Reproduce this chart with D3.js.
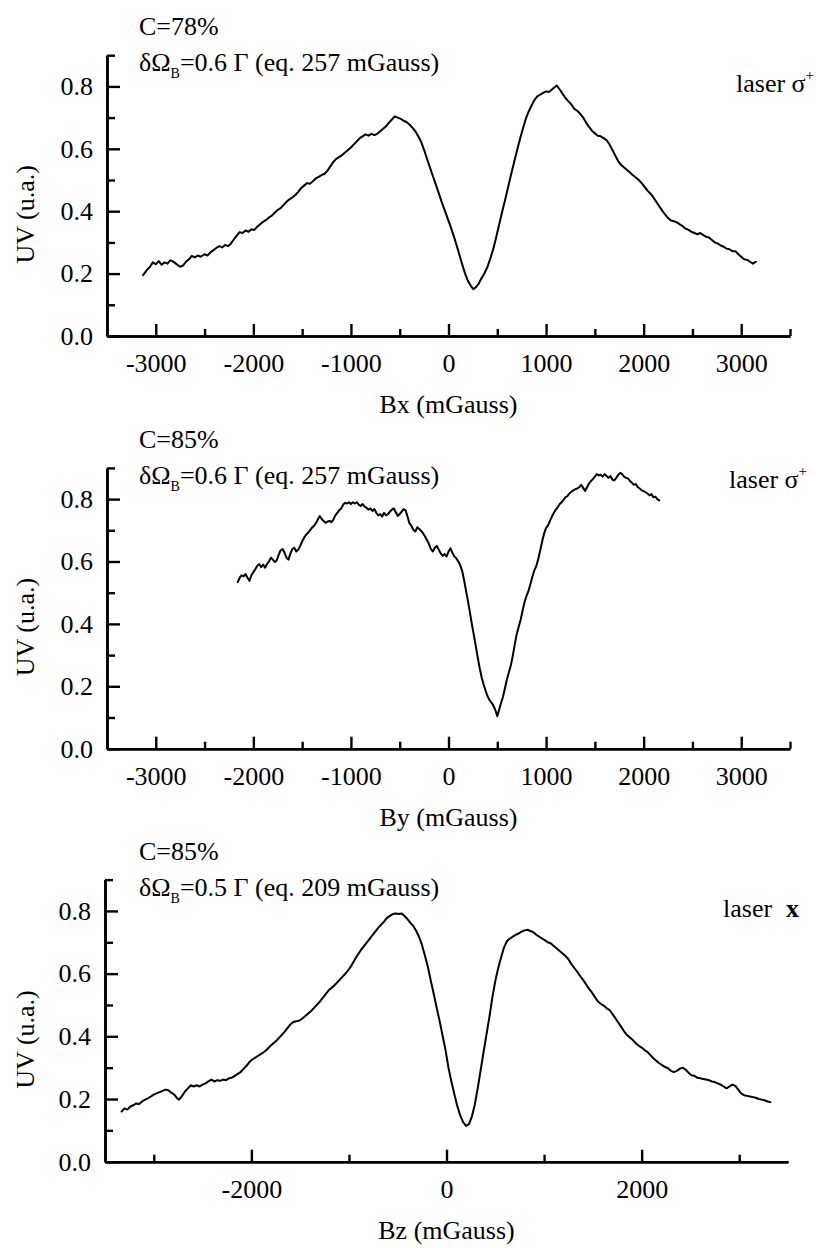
<!DOCTYPE html>
<html><head><meta charset="utf-8">
<script src="https://cdn.jsdelivr.net/npm/d3@7"></script>
<style>
html,body{margin:0;padding:0;background:#fff;}
svg{display:block;}
svg text{font-family:"Liberation Serif","Times New Roman",Times,"DejaVu Serif",serif !important;fill:#000;}
</style>
</head><body>
<script>
// ---- data (field in mGauss, UV signal in u.a.) ----
const bxSeries = [[-3130,0.195],[-3090,0.212],[-3060,0.222],[-3030,0.236],[-3000,0.230],[-2970,0.240],[-2940,0.228],[-2910,0.236],[-2880,0.232],[-2850,0.243],[-2810,0.236],[-2780,0.228],[-2750,0.222],[-2720,0.226],[-2690,0.238],[-2660,0.246],[-2630,0.257],[-2600,0.252],[-2570,0.258],[-2540,0.254],[-2500,0.262],[-2470,0.258],[-2440,0.268],[-2410,0.275],[-2380,0.282],[-2350,0.288],[-2320,0.284],[-2290,0.292],[-2260,0.288],[-2230,0.296],[-2200,0.310],[-2170,0.322],[-2140,0.333],[-2110,0.330],[-2080,0.338],[-2050,0.334],[-2020,0.342],[-1990,0.340],[-1960,0.350],[-1930,0.358],[-1900,0.366],[-1870,0.372],[-1840,0.380],[-1810,0.386],[-1780,0.396],[-1750,0.404],[-1720,0.410],[-1690,0.420],[-1660,0.430],[-1630,0.438],[-1600,0.444],[-1570,0.452],[-1540,0.462],[-1510,0.474],[-1480,0.482],[-1450,0.490],[-1420,0.488],[-1390,0.496],[-1360,0.505],[-1330,0.510],[-1300,0.516],[-1270,0.520],[-1240,0.530],[-1210,0.544],[-1180,0.558],[-1150,0.568],[-1120,0.574],[-1090,0.580],[-1060,0.588],[-1030,0.596],[-1000,0.604],[-970,0.614],[-940,0.624],[-910,0.634],[-880,0.640],[-850,0.646],[-820,0.642],[-790,0.648],[-760,0.644],[-730,0.648],[-700,0.656],[-670,0.664],[-640,0.672],[-610,0.684],[-580,0.694],[-550,0.704],[-520,0.700],[-490,0.696],[-460,0.690],[-430,0.686],[-400,0.678],[-370,0.668],[-340,0.656],[-310,0.640],[-280,0.622],[-250,0.596],[-220,0.568],[-190,0.540],[-160,0.512],[-130,0.486],[-100,0.458],[-70,0.430],[-40,0.404],[-10,0.378],[20,0.352],[50,0.324],[80,0.294],[110,0.262],[140,0.230],[170,0.200],[200,0.176],[230,0.160],[255,0.150],[280,0.156],[310,0.168],[340,0.186],[370,0.202],[400,0.222],[430,0.250],[460,0.280],[490,0.318],[520,0.358],[550,0.398],[580,0.436],[610,0.476],[640,0.516],[670,0.554],[700,0.592],[730,0.628],[760,0.662],[790,0.694],[820,0.718],[850,0.738],[880,0.756],[910,0.768],[940,0.774],[970,0.779],[1000,0.784],[1030,0.782],[1060,0.790],[1090,0.798],[1110,0.803],[1140,0.790],[1170,0.776],[1200,0.762],[1230,0.752],[1260,0.742],[1290,0.728],[1320,0.722],[1350,0.712],[1380,0.700],[1410,0.684],[1440,0.670],[1470,0.658],[1500,0.650],[1530,0.642],[1560,0.640],[1590,0.634],[1620,0.628],[1650,0.614],[1680,0.596],[1710,0.578],[1740,0.560],[1770,0.548],[1800,0.540],[1830,0.532],[1860,0.524],[1890,0.515],[1920,0.508],[1950,0.500],[1980,0.490],[2010,0.478],[2040,0.466],[2070,0.456],[2100,0.444],[2130,0.430],[2160,0.416],[2190,0.402],[2220,0.390],[2250,0.378],[2280,0.370],[2310,0.368],[2340,0.364],[2370,0.358],[2400,0.352],[2430,0.344],[2460,0.340],[2490,0.334],[2520,0.330],[2550,0.326],[2580,0.330],[2610,0.324],[2640,0.318],[2670,0.316],[2700,0.308],[2730,0.300],[2760,0.296],[2790,0.290],[2820,0.286],[2850,0.280],[2880,0.278],[2910,0.272],[2940,0.272],[2970,0.262],[3000,0.254],[3030,0.246],[3060,0.244],[3090,0.238],[3120,0.232],[3150,0.238]];

const bySeries = [[-2160,0.534],[-2140,0.548],[-2120,0.556],[-2100,0.552],[-2080,0.560],[-2060,0.548],[-2040,0.538],[-2020,0.556],[-2000,0.566],[-1980,0.575],[-1960,0.586],[-1940,0.592],[-1920,0.582],[-1900,0.590],[-1880,0.580],[-1860,0.592],[-1840,0.600],[-1820,0.612],[-1800,0.606],[-1780,0.598],[-1760,0.604],[-1740,0.622],[-1720,0.636],[-1700,0.640],[-1680,0.628],[-1660,0.612],[-1640,0.606],[-1620,0.626],[-1600,0.640],[-1580,0.644],[-1560,0.632],[-1540,0.638],[-1520,0.650],[-1500,0.664],[-1480,0.676],[-1460,0.686],[-1440,0.692],[-1420,0.700],[-1400,0.708],[-1380,0.714],[-1360,0.722],[-1340,0.734],[-1320,0.746],[-1300,0.736],[-1280,0.730],[-1260,0.724],[-1240,0.728],[-1220,0.730],[-1200,0.726],[-1180,0.734],[-1160,0.748],[-1140,0.756],[-1120,0.764],[-1100,0.770],[-1080,0.782],[-1060,0.788],[-1040,0.786],[-1020,0.790],[-1000,0.784],[-980,0.790],[-960,0.786],[-940,0.790],[-920,0.782],[-900,0.778],[-880,0.784],[-860,0.776],[-840,0.772],[-820,0.766],[-800,0.770],[-780,0.762],[-760,0.768],[-740,0.756],[-720,0.748],[-700,0.752],[-680,0.744],[-660,0.756],[-640,0.748],[-620,0.752],[-600,0.760],[-580,0.766],[-560,0.770],[-540,0.758],[-520,0.746],[-500,0.752],[-480,0.760],[-460,0.768],[-440,0.764],[-420,0.744],[-400,0.722],[-380,0.714],[-360,0.702],[-340,0.696],[-320,0.710],[-300,0.704],[-280,0.698],[-260,0.690],[-240,0.680],[-220,0.668],[-200,0.656],[-180,0.640],[-160,0.632],[-140,0.644],[-120,0.650],[-100,0.638],[-80,0.626],[-60,0.618],[-40,0.624],[-20,0.616],[0,0.632],[20,0.642],[40,0.628],[60,0.616],[80,0.610],[100,0.600],[120,0.588],[140,0.570],[160,0.540],[180,0.506],[200,0.472],[220,0.436],[240,0.398],[260,0.364],[280,0.328],[300,0.292],[320,0.258],[340,0.228],[360,0.206],[380,0.186],[400,0.168],[420,0.156],[440,0.148],[460,0.138],[480,0.124],[500,0.104],[520,0.126],[540,0.148],[560,0.168],[580,0.196],[600,0.224],[620,0.246],[640,0.268],[660,0.300],[680,0.336],[700,0.368],[720,0.392],[740,0.414],[760,0.444],[780,0.470],[800,0.490],[820,0.506],[840,0.528],[860,0.552],[880,0.572],[900,0.586],[920,0.608],[940,0.636],[960,0.664],[980,0.690],[1000,0.708],[1020,0.716],[1040,0.730],[1060,0.744],[1080,0.756],[1100,0.766],[1120,0.774],[1140,0.784],[1160,0.790],[1180,0.798],[1200,0.806],[1220,0.810],[1240,0.818],[1260,0.824],[1280,0.828],[1300,0.832],[1320,0.834],[1340,0.838],[1360,0.846],[1380,0.836],[1400,0.826],[1420,0.838],[1440,0.850],[1460,0.858],[1480,0.864],[1500,0.872],[1520,0.880],[1540,0.876],[1560,0.878],[1580,0.872],[1600,0.880],[1620,0.874],[1640,0.868],[1660,0.874],[1680,0.862],[1700,0.860],[1720,0.868],[1740,0.878],[1760,0.884],[1780,0.880],[1800,0.872],[1820,0.868],[1840,0.866],[1860,0.858],[1880,0.852],[1900,0.846],[1920,0.848],[1940,0.838],[1960,0.834],[1980,0.828],[2000,0.826],[2020,0.822],[2040,0.818],[2060,0.812],[2080,0.816],[2100,0.806],[2120,0.808],[2140,0.800],[2160,0.796]];

const bzSeries = [[-3330,0.160],[-3300,0.170],[-3270,0.166],[-3240,0.176],[-3210,0.180],[-3180,0.186],[-3150,0.184],[-3120,0.192],[-3090,0.198],[-3060,0.202],[-3030,0.208],[-3000,0.214],[-2970,0.218],[-2940,0.222],[-2910,0.226],[-2880,0.230],[-2850,0.228],[-2820,0.220],[-2790,0.214],[-2760,0.202],[-2740,0.198],[-2710,0.210],[-2680,0.224],[-2650,0.234],[-2620,0.244],[-2590,0.240],[-2560,0.244],[-2530,0.240],[-2500,0.246],[-2470,0.250],[-2440,0.256],[-2410,0.262],[-2380,0.256],[-2350,0.260],[-2320,0.258],[-2290,0.262],[-2260,0.260],[-2230,0.266],[-2200,0.268],[-2170,0.274],[-2140,0.280],[-2110,0.286],[-2080,0.296],[-2050,0.306],[-2020,0.318],[-1990,0.326],[-1960,0.332],[-1930,0.338],[-1900,0.344],[-1870,0.350],[-1840,0.358],[-1810,0.368],[-1780,0.376],[-1750,0.384],[-1720,0.394],[-1690,0.404],[-1660,0.414],[-1630,0.426],[-1600,0.438],[-1570,0.446],[-1540,0.448],[-1510,0.450],[-1480,0.456],[-1450,0.464],[-1420,0.472],[-1390,0.480],[-1360,0.490],[-1330,0.500],[-1300,0.510],[-1270,0.522],[-1240,0.534],[-1210,0.546],[-1180,0.554],[-1150,0.562],[-1120,0.572],[-1090,0.582],[-1060,0.592],[-1030,0.602],[-1000,0.614],[-970,0.628],[-940,0.644],[-910,0.660],[-880,0.674],[-850,0.686],[-820,0.698],[-790,0.710],[-760,0.722],[-730,0.734],[-700,0.746],[-670,0.756],[-640,0.766],[-610,0.778],[-580,0.784],[-550,0.790],[-520,0.792],[-490,0.790],[-460,0.792],[-430,0.784],[-400,0.774],[-370,0.762],[-340,0.752],[-310,0.736],[-280,0.716],[-250,0.690],[-220,0.656],[-190,0.620],[-160,0.576],[-130,0.534],[-100,0.490],[-70,0.448],[-40,0.402],[-10,0.356],[20,0.300],[50,0.256],[80,0.216],[110,0.178],[140,0.148],[170,0.126],[200,0.114],[230,0.120],[260,0.144],[290,0.182],[320,0.234],[350,0.292],[380,0.350],[410,0.406],[440,0.462],[470,0.524],[500,0.576],[530,0.618],[560,0.652],[590,0.684],[620,0.704],[650,0.712],[680,0.718],[710,0.724],[740,0.728],[770,0.734],[800,0.738],[830,0.740],[860,0.736],[890,0.732],[920,0.724],[950,0.718],[980,0.712],[1010,0.706],[1040,0.700],[1070,0.696],[1100,0.688],[1130,0.680],[1160,0.672],[1190,0.664],[1220,0.656],[1250,0.646],[1280,0.630],[1310,0.618],[1340,0.606],[1370,0.592],[1400,0.580],[1430,0.566],[1460,0.552],[1490,0.540],[1520,0.526],[1550,0.512],[1580,0.504],[1610,0.498],[1640,0.490],[1670,0.484],[1700,0.472],[1730,0.458],[1760,0.444],[1790,0.430],[1820,0.416],[1850,0.404],[1880,0.396],[1910,0.388],[1940,0.378],[1970,0.370],[2000,0.364],[2030,0.356],[2060,0.350],[2090,0.340],[2120,0.330],[2150,0.322],[2180,0.314],[2210,0.308],[2240,0.302],[2270,0.298],[2300,0.290],[2330,0.286],[2360,0.290],[2390,0.296],[2420,0.300],[2450,0.294],[2480,0.284],[2510,0.276],[2540,0.274],[2570,0.268],[2600,0.266],[2630,0.264],[2660,0.262],[2690,0.260],[2720,0.256],[2750,0.254],[2780,0.250],[2810,0.246],[2840,0.240],[2870,0.234],[2900,0.240],[2930,0.246],[2960,0.242],[2990,0.230],[3020,0.218],[3050,0.212],[3080,0.210],[3110,0.208],[3140,0.206],[3170,0.204],[3200,0.200],[3230,0.198],[3260,0.196],[3290,0.192],[3320,0.190]];

const xDomain = [-3500, 3500];
const yDomain = [0, 0.9];
const xMajorFine = [-3000, -2000, -1000, 0, 1000, 2000, 3000];
const xMinorFine = [-2500, -1500, -500, 500, 1500, 2500, 3500];
const xMajorCoarse = [-2000, 0, 2000];
const xMinorCoarse = [-3000, -1000, 1000, 3000];
const yMajor = [0, 0.2, 0.4, 0.6, 0.8];
const yMinor = [0.1, 0.3, 0.5, 0.7, 0.9];
const contrasts = ["C=78%", "C=85%", "C=85%"];
const widths = ["0.6", "0.6", "0.5"];
const equivs = ["257", "257", "209"];
const axisTitles = ["Bx (mGauss)", "By (mGauss)", "Bz (mGauss)"];
const yTitle = "UV (u.a.)";

// ---- drawing ----
const W = 816, H = 1248;
const FONT = '"Liberation Serif","Times New Roman",Times,"DejaVu Serif",serif';
const FS = 26;
const svg = d3.select("body").append("svg").attr("width", W).attr("height", H)
  .attr("font-family", FONT);

const panels = [
  {data: bxSeries, xr: [107, 790], y0: 336, y9: 55.2, xMajor: xMajorFine, xMinor: xMinorFine, laser: "s", laserX: 736, laserDY: 6},
  {data: bySeries, xr: [107, 790], y0: 748.7, y9: 467.9, xMajor: xMajorFine, xMinor: xMinorFine, laser: "s", laserX: 729, laserDY: -11},
  {data: bzSeries, xr: [105, 788], y0: 1161.7, y9: 879.6, xMajor: xMajorCoarse, xMinor: xMinorCoarse, laser: "x", laserX: 723, laserDY: 6}
];

panels.forEach((p, i) => {
  const x = d3.scaleLinear().domain(xDomain).range(p.xr);
  const y = d3.scaleLinear().domain(yDomain).range([p.y0, p.y9]);
  const g = svg.append("g");

  const gxm = g.append("g").attr("transform", `translate(0,${p.y0})`)
    .call(d3.axisBottom(x).tickValues(p.xMinor).tickSizeInner(-7).tickSizeOuter(0).tickFormat(""));
  const gx = g.append("g").attr("transform", `translate(0,${p.y0})`)
    .call(d3.axisBottom(x).tickValues(p.xMajor).tickSizeInner(-12).tickSizeOuter(0).tickPadding(18).tickFormat(d => String(d)));
  const gym = g.append("g").attr("transform", `translate(${p.xr[0]},0)`)
    .call(d3.axisLeft(y).tickValues(yMinor).tickSizeInner(-8).tickSizeOuter(0).tickFormat(""));
  const gy = g.append("g").attr("transform", `translate(${p.xr[0]},0)`)
    .call(d3.axisLeft(y).tickValues(yMajor).tickSizeInner(-13).tickSizeOuter(0).tickPadding(14).tickFormat(d3.format(".1f")));

  [gxm, gx, gym, gy].forEach(a => {
    a.attr("font-family", FONT).attr("font-size", FS);
    a.select(".domain").attr("stroke", "#000").attr("stroke-width", 2.6);
    a.selectAll(".tick line").attr("stroke", "#000").attr("stroke-width", 2.4);
    a.selectAll(".tick text").attr("fill", "#000").attr("font-size", FS);
  });

  const line = d3.line().x(d => x(d[0])).y(d => y(d[1]));
  g.append("path").datum(p.data).attr("d", line)
    .attr("fill", "none").attr("stroke", "#000").attr("stroke-width", 2)
    .attr("stroke-linejoin", "round").attr("stroke-linecap", "round");

  const yb = y(0.8);
  g.append("text").attr("x", 139).attr("y", yb - 51).attr("font-size", FS).text(contrasts[i]);
  const t = g.append("text").attr("x", 139).attr("y", yb - 15).attr("font-size", FS);
  t.append("tspan").text("δΩ");
  t.append("tspan").attr("dy", 7).attr("font-size", 14).text("B");
  t.append("tspan").attr("dy", -7).text("=" + widths[i] + " Γ (eq. " + equivs[i] + " mGauss)");

  const lt = g.append("text").attr("x", p.laserX).attr("y", yb + p.laserDY).attr("font-size", FS);
  if (p.laser === "s") {
    lt.append("tspan").text("laser σ");
    lt.append("tspan").attr("dy", -12).attr("font-size", 15).text("+");
  } else {
    lt.append("tspan").text("laser");
    lt.append("tspan").attr("x", 786).attr("font-weight", "bold").text("x");
  }

  g.append("text").attr("x", x(0)).attr("y", p.y0 + 77).attr("text-anchor", "middle")
    .attr("font-size", FS).text(axisTitles[i]);
  g.append("text").attr("transform", `translate(34,${y(0.39)}) rotate(-90)`)
    .attr("text-anchor", "middle").attr("font-size", FS).text(yTitle);
});
</script>
</body></html>
